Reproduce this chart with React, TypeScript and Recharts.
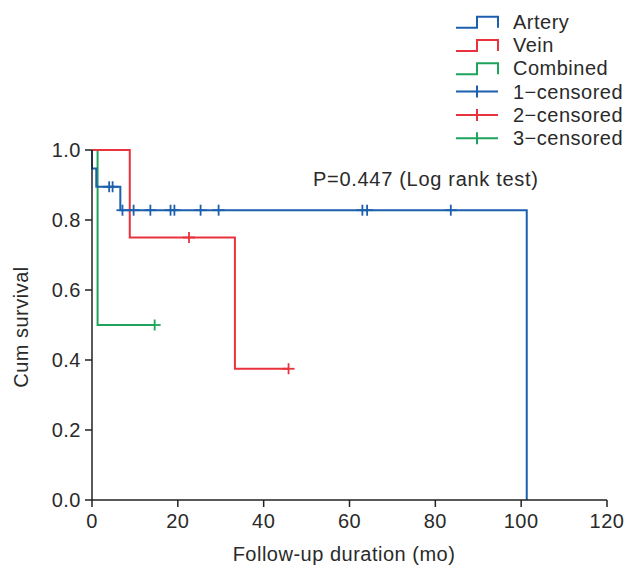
import * as React from "react";
import { ComposedChart, Line, Scatter, XAxis, YAxis } from "recharts";

const FONT = '"Liberation Sans", Arial, sans-serif';

// Kaplan-Meier step points (months, cumulative survival)
const arteryTime = [0, 0, 1.0, 6.6, 101.3];
const arterySurv = [1, 0.947, 0.895, 0.828, 0];
const veinTime = [0, 8.8, 33.3, 45.8];
const veinSurv = [1, 0.75, 0.375, 0.375];
const combinedTime = [0, 1.3, 14.6];
const combinedSurv = [1, 0.5, 0.5];

// censored observations
const arteryCensTime = [4.0, 4.8, 7.1, 9.7, 13.6, 18.3, 19.2, 25.3, 29.5, 63.0, 64.1, 83.6];
const arteryCensSurv = [0.895, 0.895, 0.828, 0.828, 0.828, 0.828, 0.828, 0.828, 0.828, 0.828, 0.828, 0.828];
const veinCensTime = [22.6, 45.8];
const veinCensSurv = [0.75, 0.375];
const combinedCensTime = [14.6];
const combinedCensSurv = [0.5];

const xTicks = [0, 20, 40, 60, 80, 100, 120];
const yTicks = [0, 0.2, 0.4, 0.6, 0.8, 1.0];

const BLUE = "#1b5fae";
const RED = "#e8323c";
const GREEN = "#1fa35c";
const TEXT = "#2a2a2a";

const legendItems = [
  { label: "Artery", color: BLUE, kind: "step" },
  { label: "Vein", color: RED, kind: "step" },
  { label: "Combined", color: GREEN, kind: "step" },
  { label: "1\u2212censored", color: BLUE, kind: "cens" },
  { label: "2\u2212censored", color: RED, kind: "cens" },
  { label: "3\u2212censored", color: GREEN, kind: "cens" },
];

const zip = (t: number[], s: number[]) => t.map((x, i) => ({ t: x, s: s[i] }));

const censShape = (color: string) => (props: any) => {
  const { cx, cy } = props;
  return (
    <g stroke={color} strokeWidth={1.8}>
      <line x1={cx - 6} x2={cx + 6} y1={cy} y2={cy} />
      <line x1={cx} x2={cx} y1={cy - 5.5} y2={cy + 5.5} />
    </g>
  );
};

export default function App() {
  const artery = zip(arteryTime, arterySurv);
  const vein = zip(veinTime, veinSurv);
  const combined = zip(combinedTime, combinedSurv);

  const tickStyle = { fontSize: 20, fontFamily: FONT, fill: TEXT, letterSpacing: 0.5 };

  return (
    <div style={{ position: "absolute", left: 0, top: 0, width: 628, height: 566, background: "#fff" }}>
      <ComposedChart width={628} height={566} margin={{ top: 150, right: 21, left: 32, bottom: 26 }}>
        <XAxis
          type="number"
          dataKey="t"
          domain={[0, 120]}
          ticks={xTicks}
          height={40}
          stroke="#222"
          strokeWidth={1.5}
          tickSize={7}
          tickMargin={7}
          tick={tickStyle}
          allowDuplicatedCategory={false}
        />
        <YAxis
          type="number"
          dataKey="s"
          domain={[0, 1]}
          ticks={yTicks}
          width={60}
          stroke="#222"
          strokeWidth={1.5}
          tickSize={7}
          tickMargin={4}
          tick={tickStyle}
          tickFormatter={(v) => Number(v).toFixed(1)}
        />
        <Line data={combined} dataKey="s" type="stepAfter" stroke={GREEN} strokeWidth={2} dot={false} isAnimationActive={false} />
        <Line data={vein} dataKey="s" type="stepAfter" stroke={RED} strokeWidth={2} dot={false} isAnimationActive={false} />
        <Line data={artery} dataKey="s" type="stepAfter" stroke={BLUE} strokeWidth={2} dot={false} isAnimationActive={false} />
        <Scatter data={zip(combinedCensTime, combinedCensSurv)} dataKey="s" shape={censShape(GREEN)} isAnimationActive={false} />
        <Scatter data={zip(veinCensTime, veinCensSurv)} dataKey="s" shape={censShape(RED)} isAnimationActive={false} />
        <Scatter data={zip(arteryCensTime, arteryCensSurv)} dataKey="s" shape={censShape(BLUE)} isAnimationActive={false} />
      </ComposedChart>
      <svg width={628} height={566} style={{ position: "absolute", left: 0, top: 0, pointerEvents: "none" }}>
        <g fontFamily={FONT} fontSize={20} fill={TEXT}>
          {legendItems.map((it, i) => {
            const c = 21.7 + i * 23.3;
            return (
              <g key={it.label}>
                {it.kind === "step" ? (
                  <path d={`M456,${c + 6}H477V${c - 5}H498V${c + 6}`} fill="none" stroke={it.color} strokeWidth={2} />
                ) : (
                  <g stroke={it.color} strokeWidth={2}>
                    <line x1={456} x2={498} y1={c} y2={c} />
                    <line x1={477} x2={477} y1={c - 6} y2={c + 6} />
                  </g>
                )}
                <text x={513} y={c + 7} letterSpacing={0.5}>{it.label}</text>
              </g>
            );
          })}
          <text x={313} y={186} letterSpacing={0.7}>P=0.447 (Log rank test)</text>
          <text x={344} y={561} textAnchor="middle" letterSpacing={0.5}>Follow-up duration (mo)</text>
          <text x={28} y={327} textAnchor="middle" transform="rotate(-90 28 327)" letterSpacing={0.5}>Cum survival</text>
        </g>
      </svg>
    </div>
  );
}
